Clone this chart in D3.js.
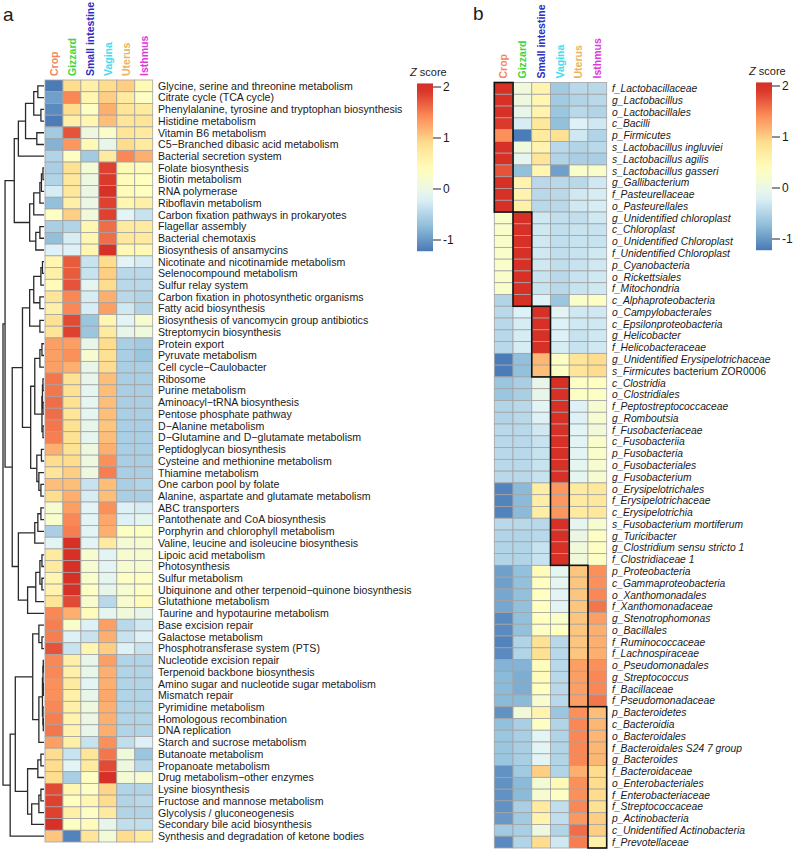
<!DOCTYPE html>
<html>
<head>
<meta charset="utf-8">
<script src="https://cdn.jsdelivr.net/npm/d3@7"></script>
<style>
  body { margin: 0; background: #fff; }
  text { font-family: Arial, "Liberation Sans", sans-serif; fill: #1a1a1a; }
</style>
</head>
<body>
<script>
var tissues = ["Crop", "Gizzard", "Small intestine", "Vagina", "Uterus", "Isthmus"];
var tissue_color = { "Crop": "#F3865F", "Gizzard": "#3CD63C", "Small intestine": "#2E2EC4", "Vagina": "#3FDDEE", "Uterus": "#E8B45F", "Isthmus": "#DE3AD9" };

var pathways = ["Glycine, serine and threonine metabolism", "Citrate cycle (TCA cycle)", "Phenylalanine, tyrosine and tryptophan biosynthesis",
  "Histidine metabolism", "Vitamin B6 metabolism", "C5−Branched dibasic acid metabolism", "Bacterial secretion system", "Folate biosynthesis",
  "Biotin metabolism", "RNA polymerase", "Riboflavin metabolism", "Carbon fixation pathways in prokaryotes", "Flagellar assembly",
  "Bacterial chemotaxis", "Biosynthesis of ansamycins", "Nicotinate and nicotinamide metabolism", "Selenocompound metabolism",
  "Sulfur relay system", "Carbon fixation in photosynthetic organisms", "Fatty acid biosynthesis", "Biosynthesis of vancomycin group antibiotics",
  "Streptomycin biosynthesis", "Protein export", "Pyruvate metabolism", "Cell cycle−Caulobacter", "Ribosome", "Purine metabolism",
  "Aminoacyl−tRNA biosynthesis", "Pentose phosphate pathway", "D−Alanine metabolism", "D−Glutamine and D−glutamate metabolism",
  "Peptidoglycan biosynthesis", "Cysteine and methionine metabolism", "Thiamine metabolism", "One carbon pool by folate",
  "Alanine, aspartate and glutamate metabolism", "ABC transporters", "Pantothenate and CoA biosynthesis", "Porphyrin and chlorophyll metabolism",
  "Valine, leucine and isoleucine biosynthesis", "Lipoic acid metabolism", "Photosynthesis", "Sulfur metabolism",
  "Ubiquinone and other terpenoid−quinone biosynthesis", "Glutathione metabolism", "Taurine and hypotaurine metabolism", "Base excision repair",
  "Galactose metabolism", "Phosphotransferase system (PTS)", "Nucleotide excision repair", "Terpenoid backbone biosynthesis",
  "Amino sugar and nucleotide sugar metabolism", "Mismatch repair", "Pyrimidine metabolism", "Homologous recombination", "DNA replication",
  "Starch and sucrose metabolism", "Butanoate metabolism", "Propanoate metabolism", "Drug metabolism−other enzymes", "Lysine biosynthesis",
  "Fructose and mannose metabolism", "Glycolysis / gluconeogenesis", "Secondary bile acid biosynthesis", "Synthesis and degradation of ketone bodies"];

// z scores, columns in the order of tissues
var pathway_z = [
  [-1.2, 0.9, 0.6, 0.9, 1.0, 0.45], [-0.95, 1.45, 0.5, 1.0, 0.7, 0.3], [-1.1, 0.9, 0.3, 1.2, 0.8, 0.7], [-1.2, 0.6, 0.5, 1.1, 0.8, 0.8],
  [-0.6, 1.75, 0.05, 0.25, 0.8, 0.7], [-0.8, 1.35, 0.45, -0.05, 0.9, 0.7], [-0.5, 0.3, -0.6, 0.7, 1.45, 1.2], [-0.55, 0.85, 0.15, 1.85, 0.45, 0.4],
  [-0.5, 0.75, 0.05, 1.9, 0.4, 0.35], [-0.25, 0.75, 0.0, 1.95, 0.4, 0.35], [-0.7, 0.6, 0.0, 1.85, 0.5, 0.6], [0.3, 1.0, 0.1, 1.85, -0.15, -0.35],
  [-0.55, -0.5, 0.5, 1.6, 0.7, 0.7], [-0.7, -0.25, 0.5, 1.6, 0.75, 0.7], [-0.2, -0.2, 0.5, 1.95, 0.45, 0.45], [0.5, 1.7, -0.35, 0.9, -0.15, -0.25],
  [0.6, 1.7, -0.35, 1.0, -0.45, -0.45], [0.4, 1.75, -0.1, 0.9, -0.45, -0.45], [0.8, 1.45, -0.25, 1.2, -0.45, -0.5], [0.6, 1.45, -0.25, 1.3, -0.3, -0.5],
  [0.85, 1.8, -0.65, 0.5, -0.15, 0.2], [0.8, 1.85, -0.65, 0.7, -0.05, 0.1], [1.3, 1.3, -0.05, 0.9, -0.55, -0.6], [1.3, 1.4, 0.2, 0.85, -0.55, -0.65],
  [1.3, 1.2, -0.05, 0.9, -0.55, -0.55], [1.55, 0.85, -0.05, 1.1, -0.55, -0.55], [1.55, 0.85, -0.1, 1.1, -0.55, -0.55], [1.6, 0.85, -0.1, 1.1, -0.55, -0.55],
  [1.6, 0.8, -0.1, 1.1, -0.55, -0.55], [1.55, 0.85, -0.05, 1.05, -0.55, -0.55], [1.5, 0.85, -0.1, 1.1, -0.55, -0.55], [1.2, 0.85, 0.05, 1.2, -0.55, -0.55],
  [0.9, 0.9, 0.05, 1.4, -0.55, -0.55], [0.8, 1.0, 0.05, 1.5, -0.55, -0.55], [1.1, 1.1, -0.35, 1.1, -0.55, -0.5], [0.9, 1.2, -0.25, 1.1, -0.55, -0.55],
  [0.2, 1.3, -0.15, 1.4, -0.2, -0.25], [0.25, 1.45, -0.15, 1.25, -0.2, -0.1], [-0.55, 1.5, -0.15, 1.2, 0.3, 0.3], [-0.15, 1.95, -0.15, 0.7, 0.15, 0.2],
  [0.7, 2.0, 0.2, -0.15, 0.2, 0.2], [0.7, 2.0, 0.2, -0.15, 0.2, 0.2], [0.5, 2.0, 0.25, -0.1, 0.3, 0.3], [0.55, 2.0, 0.3, -0.05, 0.2, 0.3],
  [0.8, 1.8, 0.2, -0.45, 0.2, 0.4], [1.45, 1.2, 0.4, -0.1, 0.1, -0.05], [1.5, 0.25, -0.2, 1.3, -0.45, -0.3], [1.5, -0.2, -0.35, 1.2, -0.35, -0.2],
  [1.75, -0.35, 0.5, 1.0, -0.2, -0.35], [1.45, 0.6, -0.05, 1.3, -0.5, -0.5], [1.45, 0.6, -0.05, 1.2, -0.5, -0.5], [1.4, 0.7, -0.15, 1.2, -0.5, -0.5],
  [1.4, 0.6, -0.05, 1.25, -0.5, -0.5], [1.45, 0.6, 0.05, 1.2, -0.5, -0.5], [1.5, 0.55, 0.0, 1.2, -0.5, -0.5], [1.55, 0.55, -0.05, 1.2, -0.5, -0.5],
  [1.3, 0.6, -0.35, 1.4, -0.4, -0.2], [0.9, -0.35, 0.8, 1.55, 0.1, -0.65], [0.9, -0.15, 0.7, 1.8, 0.05, -0.45], [0.9, -0.55, 0.3, 1.95, 0.15, 0.2],
  [1.8, 0.5, 0.3, 0.95, -0.5, -0.5], [1.85, 0.35, 0.5, 0.9, -0.5, -0.45], [1.85, 0.6, 0.3, 0.7, -0.5, -0.5], [2.05, 0.3, 0.4, -0.05, -0.4, -0.4],
  [1.05, -1.15, 0.8, 0.15, 0.9, 0.7]];

// row clustering: [height, left, right], leaves are row numbers (1-based)
var pathway_tree = [40,
  [38,
    [29,
      [25, [18, [10, [6, 1, 2], [3, 3, 4]], [7, 5, 6]], 7],
      [14, [10, [4, [2.5, [1, 8, 9], 10], 11], 12], [8, [4, 13, 14], 15]]],
    [31,
      [21,
        [14, [10, [3, [1.5, 16, 17], 18], [4, 19, 20]], [4, 21, 22]],
        [13, [9, [4, [2, 23, 24], 25], [2, [1.5, [1, 26, 27], [1, 28, 29]], [1, 30, 31]]], [7, [2.5, 32, 33], [5, 34, [3, 35, 36]]]]],
      [25, [9, [6, [3, 37, 38], 39], 40], [16, [8, [4, [2, 41, 42], [2, 43, 44]], 45], 46]]]],
  [33,
    [28,
      [11, [5, 47, [2, 48, 49]], [5, [1.5, [1, [0.7, 50, 51], [0.7, 52, 53]], [1, 54, [0.7, 55, 56]]], 57]],
      [16, [6, [3, 58, 59], 60], [12, [5, [3, 61, 62], 63], 64]]],
    65]];

var taxa = ["f_Lactobacillaceae", "g_Lactobacillus", "o_Lactobacillales", "c_Bacilli", "p_Firmicutes", "s_Lactobacillus ingluviei",
  "s_Lactobacillus agilis", "s_Lactobacillus gasseri", "g_Gallibacterium", "f_Pasteurellaceae", "o_Pasteurellales", "g_Unidentified chloroplast",
  "c_Chloroplast", "o_Unidentified Chloroplast", "f_Unidentified Chloroplast", "p_Cyanobacteria", "o_Rickettsiales", "f_Mitochondria",
  "c_Alphaproteobacteria", "o_Campylobacterales", "c_Epsilonproteobacteria", "g_Helicobacter", "f_Helicobacteraceae",
  "g_Unidentified Erysipelotrichaceae", "s_Firmicutes|bacterium ZOR0006", "c_Clostridia", "o_Clostridiales", "f_Peptostreptococcaceae",
  "g_Romboutsia", "f_Fusobacteriaceae", "c_Fusobacteriia", "p_Fusobacteria", "o_Fusobacteriales", "g_Fusobacterium", "o_Erysipelotrichales",
  "f_Erysipelotrichaceae", "c_Erysipelotrichia", "s_Fusobacterium mortiferum", "g_Turicibacter", "g_Clostridium sensu stricto 1",
  "f_Clostridiaceae 1", "p_Proteobacteria", "c_Gammaproteobacteria", "o_Xanthomonadales", "f_Xanthomonadaceae", "g_Stenotrophomonas",
  "o_Bacillales", "f_Ruminococcaceae", "f_Lachnospiraceae", "o_Pseudomonadales", "g_Streptococcus", "f_Bacillaceae", "f_Pseudomonadaceae",
  "p_Bacteroidetes", "c_Bacteroidia", "o_Bacteroidales", "f_Bacteroidales S24 7 group", "g_Bacteroides", "f_Bacteroidaceae",
  "o_Enterobacteriales", "f_Enterobacteriaceae", "f_Streptococcaceae", "p_Actinobacteria", "c_Unidentified Actinobacteria", "f_Prevotellaceae"];

var taxa_z = [
  [2.0, 0.1, 0.55, -0.6, -0.45, -0.45], [2.0, 0.05, 0.5, -0.6, -0.5, -0.45], [2.0, -0.05, 0.55, -0.65, -0.45, -0.5], [1.9, -0.25, 0.75, -0.7, -0.2, -0.3],
  [1.4, -1.2, 0.7, 0.85, -0.3, -0.5], [1.95, 0.1, 0.55, -0.45, -0.5, -0.45], [1.95, -0.1, 0.8, -0.5, -0.55, -0.55], [1.75, -0.7, 0.5, -0.95, 0.25, 0.25],
  [2.0, 0.55, -0.45, -0.45, -0.45, -0.3], [2.0, 0.55, -0.45, -0.45, -0.3, -0.25], [2.0, 0.6, -0.45, -0.45, -0.3, -0.25], [0.25, 2.0, -0.3, -0.4, -0.4, -0.3],
  [0.25, 2.0, -0.3, -0.4, -0.35, -0.35], [0.25, 2.0, -0.3, -0.4, -0.35, -0.35], [0.25, 2.0, -0.3, -0.4, -0.35, -0.3], [0.25, 2.0, -0.3, -0.4, -0.35, -0.3],
  [0.25, 2.0, -0.35, -0.45, -0.35, -0.3], [0.25, 2.0, -0.35, -0.45, -0.35, -0.3], [-0.5, 1.95, -0.2, -0.65, 0.25, 0.3], [-0.45, -0.2, 2.0, -0.15, -0.3, -0.3],
  [-0.45, -0.25, 2.0, -0.2, -0.3, -0.3], [-0.45, -0.25, 2.0, -0.2, -0.35, -0.3], [-0.45, -0.25, 2.0, -0.25, -0.35, -0.3], [-1.2, -0.7, 1.15, 0.3, 0.8, 0.9],
  [-1.2, -0.7, 1.1, 0.3, 0.8, 0.9], [-0.65, -0.55, -0.05, 2.0, 0.3, 0.35], [-0.65, -0.55, -0.05, 2.0, 0.3, 0.3], [-0.5, -0.45, -0.15, 2.0, -0.2, 0.2],
  [-0.5, -0.45, -0.2, 2.0, -0.2, 0.2], [-0.45, -0.45, -0.3, 2.0, -0.15, 0.1], [-0.45, -0.45, -0.35, 2.0, -0.15, 0.25], [-0.45, -0.45, -0.35, 2.0, -0.15, 0.25],
  [-0.45, -0.45, -0.35, 2.0, -0.1, 0.2], [-0.45, -0.45, -0.35, 2.0, -0.1, 0.2], [-1.15, -0.75, 0.65, 1.35, 0.7, 0.75], [-1.15, -0.75, 0.65, 1.35, 0.7, 0.75],
  [-1.15, -0.75, 0.65, 1.35, 0.7, 0.75], [-0.45, -0.45, -0.45, 2.0, -0.1, 0.2], [-0.5, -0.5, -0.45, 2.0, 0.0, 0.3], [-0.5, -0.5, -0.35, 2.0, 0.1, 0.3],
  [-0.5, -0.5, -0.35, 2.0, 0.1, 0.3], [-0.95, -0.7, 0.4, -0.1, 1.05, 1.4], [-0.95, -0.7, 0.35, -0.1, 1.05, 1.4], [-0.9, -0.7, 0.35, -0.15, 1.05, 1.45],
  [-0.9, -0.7, 0.35, -0.15, 1.05, 1.55], [-1.1, -0.7, 0.35, 0.25, 1.05, 1.3], [-1.1, -0.7, 0.3, 0.35, 1.05, 1.2], [-1.15, -0.5, 0.85, -0.45, 1.05, 1.2],
  [-1.1, -0.5, 0.85, -0.45, 1.05, 1.2], [-0.8, -0.8, 0.4, -0.45, 1.3, 1.4], [-0.75, -0.85, 0.4, -0.45, 1.3, 1.45], [-0.75, -0.85, 0.35, -0.45, 1.3, 1.45],
  [-0.75, -0.75, 0.2, -0.45, 1.3, 1.55], [-1.05, 0.1, 0.55, -0.65, 1.4, 1.1], [-0.7, -0.55, 0.3, -0.5, 1.45, 1.15], [-0.65, -0.55, -0.15, -0.5, 1.45, 1.15],
  [-0.65, -0.55, -0.15, -0.5, 1.45, 1.15], [-0.65, -0.55, -0.15, -0.5, 1.45, 1.15], [-1.05, -0.6, 1.0, -0.5, 1.2, 0.9], [-1.05, -0.75, 0.15, 0.45, 1.4, 0.9],
  [-1.05, -0.75, 0.2, 0.3, 1.4, 0.9], [-1.05, -0.55, 0.7, -0.4, 1.45, 0.85], [-1.0, -0.6, 0.55, -0.4, 1.35, 1.0], [-0.6, -0.55, 0.05, -0.5, 1.6, 1.0],
  [-1.1, -0.5, 0.9, -0.3, 1.5, 0.6]];

// rows (first, last, 0-based) of the taxa enriched in each tissue
var taxa_groups = [[0, 10], [11, 18], [19, 24], [25, 40], [41, 52], [53, 64]];

var z_ticks = [2, 1, 0, -1];
var heat_colors = ["#4575B4", "#91BFDB", "#E0F3F8", "#FFFFBF", "#FEE090", "#FC8D59", "#D73027"];
var z_min = -1.25, z_max = 1.95;

var color = d3.scaleLinear()
  .domain(heat_colors.map(function (c, i) { return z_min + i * (z_max - z_min) / 6; }))
  .range(heat_colors)
  .clamp(true);

var svg = d3.select("body").append("svg")
  .attr("width", 794)
  .attr("height", 851);

function draw_heatmap(rows, values, x0, x1, y0, y1) {
  var x = d3.scaleBand().domain(d3.range(tissues.length)).range([x0, x1]);
  var y = d3.scaleBand().domain(d3.range(rows.length)).range([y0, y1]);
  var g = svg.append("g");
  values.forEach(function (row, i) {
    g.selectAll(null).data(row).enter().append("rect")
      .attr("x", function (d, j) { return x(j); })
      .attr("y", y(i))
      .attr("width", x.bandwidth())
      .attr("height", y.bandwidth())
      .attr("fill", function (d) { return color(d); })
      .attr("stroke", "#a3a3a3")
      .attr("stroke-width", 0.8);
  });

  svg.append("g").selectAll("text").data(tissues).enter().append("text")
    .attr("transform", function (d, j) { return "translate(" + (x(j) + x.bandwidth() / 2) + "," + (y0 - 4) + ") rotate(-90)"; })
    .attr("dy", "0.36em")
    .style("font-size", "10.5px")
    .style("font-weight", "bold")
    .style("fill", function (d) { return tissue_color[d]; })
    .text(function (d) { return d; });
  return { x: x, y: y };
}

function draw_legend(x0, y0, label_x) {
  var h = d3.scaleLinear().domain([2, -1]).range([y0, y0 + 153]);
  var id = "grad" + Math.round(x0);
  var grad = svg.append("defs").append("linearGradient").attr("id", id)
    .attr("x1", 0).attr("y1", 1).attr("x2", 0).attr("y2", 0);
  var top = 2.07, bottom = -1.22;
  d3.range(0, 1.001, 0.05).forEach(function (t) {
    grad.append("stop").attr("offset", t).attr("stop-color", color(bottom + t * (top - bottom)));
  });
  svg.append("rect")
    .attr("x", x0).attr("y", h(top))
    .attr("width", 16).attr("height", h(bottom) - h(top))
    .attr("fill", "url(#" + id + ")");
  var t = svg.append("g").selectAll("g").data(z_ticks).enter().append("g");
  t.append("line")
    .attr("x1", x0 + 16).attr("x2", x0 + 24)
    .attr("y1", function (d) { return h(d); }).attr("y2", function (d) { return h(d); })
    .attr("stroke", "#222").attr("stroke-width", 1);
  t.append("text")
    .attr("x", label_x).attr("y", function (d) { return h(d); })
    .attr("dy", "0.36em")
    .style("font-size", "12px")
    .text(function (d) { return d; });
  var title = svg.append("text").attr("x", x0 - 7).attr("y", y0 - 11).style("font-size", "11px");
  title.append("tspan").style("font-style", "italic").text("Z");
  title.append("tspan").text(" score");
}

function draw_tree(g, node, x, y) {
  if (typeof node == "number") return { x: x(0), y: y(node - 1) + y.bandwidth() / 2 };
  var l = draw_tree(g, node[1], x, y);
  var r = draw_tree(g, node[2], x, y);
  var nx = x(node[0]);
  g.append("path")
    .attr("d", "M" + l.x + "," + l.y + "H" + nx + "V" + r.y + "H" + r.x)
    .attr("fill", "none")
    .attr("stroke", "#2a2a2a")
    .attr("stroke-width", 1.3);
  return { x: nx, y: (l.y + r.y) / 2 };
}

// panel a
var pa = draw_heatmap(pathways, pathway_z, 45, 152.7, 80, 842);

svg.append("g").selectAll("text").data(pathways).enter().append("text")
  .attr("x", 158)
  .attr("y", function (d, i) { return pa.y(i) + pa.y.bandwidth() / 2; })
  .attr("dy", "0.36em")
  .style("font-size", "10.6px")
  .text(function (d) { return d; });

var tree_x = d3.scaleLinear().domain([0, 40]).range([44, 3]);
draw_tree(svg.append("g"), pathway_tree, tree_x, pa.y);

draw_legend(417, 87, 443);

svg.append("text").attr("x", 3).attr("y", 21).style("font-size", "19px").text("a");

// panel b
var pb = draw_heatmap(taxa, taxa_z, 494.3, 606.7, 82.5, 848);

var tl = svg.append("g").selectAll("text").data(taxa).enter().append("text")
  .attr("x", 612)
  .attr("y", function (d, i) { return pb.y(i) + pb.y.bandwidth() / 2; })
  .attr("dy", "0.36em")
  .style("font-size", "10.3px");
tl.append("tspan").style("font-style", "italic").text(function (d) { return d.split("|")[0]; });
tl.filter(function (d) { return d.indexOf("|") > 0; })
  .append("tspan").text(function (d) { return " " + d.split("|")[1]; });

svg.append("g").selectAll("rect").data(taxa_groups).enter().append("rect")
  .attr("x", function (d, j) { return pb.x(j); })
  .attr("y", function (d) { return pb.y(d[0]); })
  .attr("width", pb.x.bandwidth())
  .attr("height", function (d) { return pb.y(d[1]) + pb.y.bandwidth() - pb.y(d[0]); })
  .attr("fill", "none")
  .attr("stroke", "#111")
  .attr("stroke-width", 1.6);

draw_legend(756, 86, 782);

svg.append("text").attr("x", 473).attr("y", 20).style("font-size", "19px").text("b");
</script>
</body>
</html>
